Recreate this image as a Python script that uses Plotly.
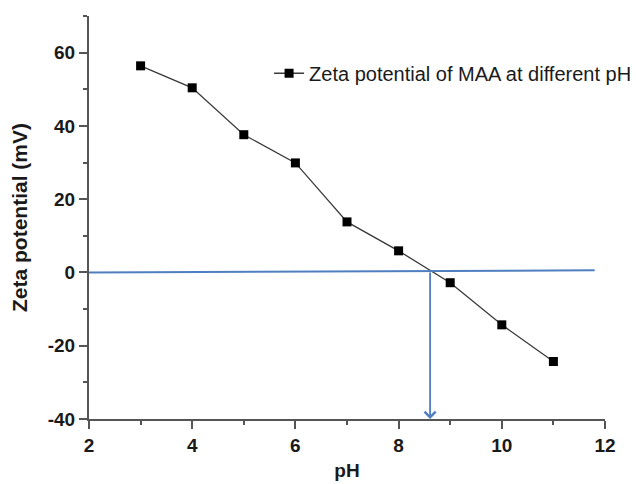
import plotly.graph_objects as go

ph = [3, 4, 5, 6, 7, 8, 9, 10, 11]
zeta = [56.4, 50.4, 37.6, 29.9, 13.8, 5.9, -2.8, -14.3, -24.3]
series_name = "Zeta potential of MAA at different pH"
x_ticks = [2, 4, 6, 8, 10, 12]
y_ticks = [-40, -20, 0, 20, 40, 60]
iep = 8.61
zero_line_x = [2.0, 11.8]
zero_line_y = [0.0, 0.6]

blue = "#4f7fc0"
axis_col = "#555555"
text_col = "#1a1a1a"
font = "Liberation Sans, Arial, sans-serif"

fig = go.Figure()
fig.add_trace(go.Scatter(
    x=ph, y=zeta, mode="lines+markers", name=series_name,
    line=dict(color="#3a3a3a", width=1.3),
    marker=dict(symbol="square", size=9, color="black"),
    cliponaxis=False,
))

# horizontal zero reference line
fig.add_shape(type="line", xref="x", yref="y",
              x0=zero_line_x[0], y0=zero_line_y[0], x1=zero_line_x[1], y1=zero_line_y[1],
              line=dict(color=blue, width=2))
# vertical arrow at isoelectric point
iep_y = zero_line_y[0] + (zero_line_y[1] - zero_line_y[0]) * (iep - zero_line_x[0]) / (zero_line_x[1] - zero_line_x[0])
fig.add_annotation(
    x=iep, y=-40, xref="x", yref="y",
    ax=iep, ay=iep_y, axref="x", ayref="y",
    showarrow=True, arrowhead=4, arrowsize=1.2, arrowwidth=1.8, arrowcolor=blue, text="",
    standoff=0,
)

fig.update_layout(
    width=636, height=484,
    margin=dict(l=89, r=31, t=16, b=65, autoexpand=False),
    paper_bgcolor="white", plot_bgcolor="white",
    font=dict(family=font, color=text_col),
    showlegend=True,
    legend=dict(x=0.349, y=0.858, xanchor="left", yanchor="middle",
                bgcolor="rgba(0,0,0,0)", font=dict(size=20, family=font, color=text_col),
                itemwidth=30),
    xaxis=dict(
        range=[2, 12], tickvals=x_ticks, ticktext=[str(v) for v in x_ticks],
        showgrid=False, zeroline=False, showline=True, linecolor=axis_col, linewidth=2,
        ticks="outside", ticklen=8, tickwidth=2, tickcolor=axis_col,
        minor=dict(dtick=1, ticks="outside", ticklen=4, tickwidth=2, tickcolor=axis_col),
        tickfont=dict(size=19, family=font, color=text_col, weight="bold"),
        title=dict(text="<b>pH</b>", font=dict(size=19, family=font, color=text_col), standoff=9),
        automargin=False,
    ),
    yaxis=dict(
        range=[-40, 70], tickvals=y_ticks, ticktext=[str(v) for v in y_ticks],
        showgrid=False, zeroline=False, showline=True, linecolor=axis_col, linewidth=2,
        ticks="outside", ticklen=8, tickwidth=2, tickcolor=axis_col,
        minor=dict(dtick=10, ticks="outside", ticklen=4, tickwidth=2, tickcolor=axis_col),
        tickfont=dict(size=19, family=font, color=text_col, weight="bold"),
        title=dict(text="<b>Zeta potential (mV)</b>", font=dict(size=21, family=font, color=text_col), standoff=14),
        automargin=False,
    ),
)

fig.write_html("out.html", config={"displayModeBar": False},
               post_script="document.body.style.margin='0';")
